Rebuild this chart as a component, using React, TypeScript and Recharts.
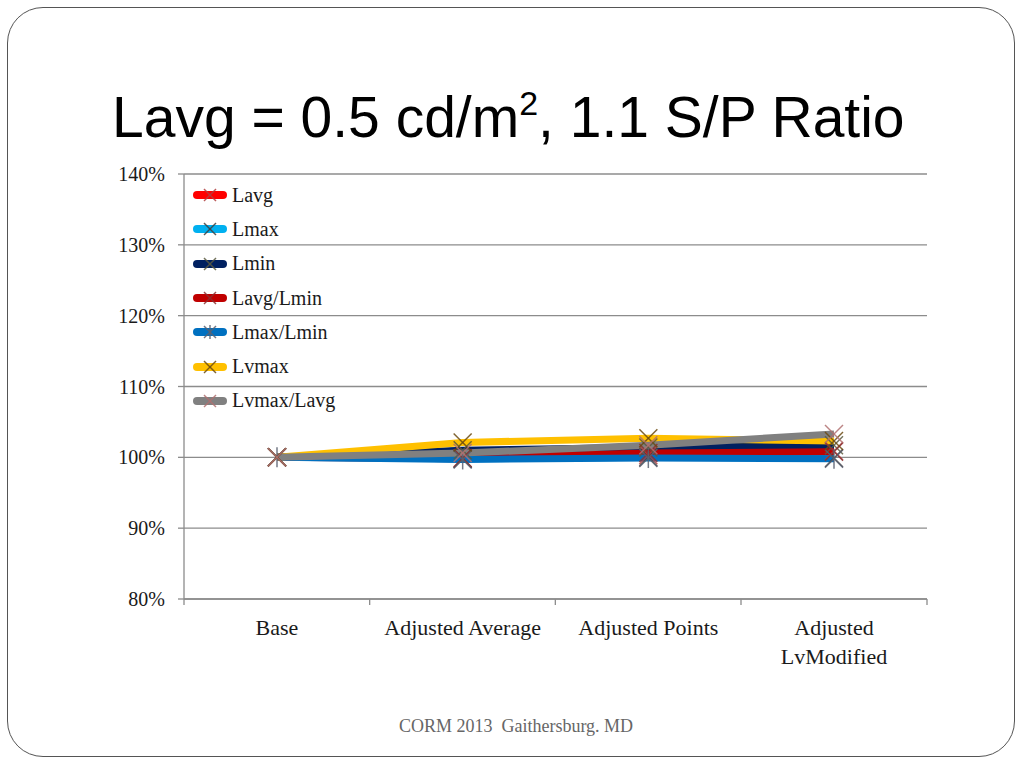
import React from "react";
import { LineChart, Line, XAxis, YAxis, CartesianGrid } from "recharts";

// categories
const categories = ["Base", "Adjusted Average", "Adjusted Points", "Adjusted LvModified"];

// series values, relative to Base (1 = 100%)
const lavg = [1.0, 0.998, 1.003, 1.009];
const lmax = [1.0, 0.998, 1.0, 0.999];
const lmin = [1.0, 1.01, 1.014, 1.017];
const lavgLmin = [1.0, 0.999, 1.006, 1.008];
const lmaxLmin = [1.0, 0.997, 0.999, 0.998];
const lvmax = [1.0, 1.021, 1.027, 1.023];
const lvmaxLavg = [1.0, 1.006, 1.017, 1.033];

const yTicks = [0.8, 0.9, 1.0, 1.1, 1.2, 1.3, 1.4];

const series = [
  { key: "Lavg", values: lavg, color: "#ff0000", marker: "#b04040", shape: "x" },
  { key: "Lmax", values: lmax, color: "#00b0f0", marker: "#404040", shape: "x" },
  { key: "Lmin", values: lmin, color: "#002060", marker: "#5a5a40", shape: "x" },
  { key: "Lavg/Lmin", values: lavgLmin, color: "#c00000", marker: "#8b3030", shape: "x" },
  { key: "Lmax/Lmin", values: lmaxLmin, color: "#0070c0", marker: "#5a6070", shape: "star" },
  { key: "Lvmax", values: lvmax, color: "#ffc000", marker: "#6b4a10", shape: "x" },
  { key: "Lvmax/Lavg", values: lvmaxLavg, color: "#808080", marker: "#b07070", shape: "x" },
];

const data = categories.map((name, i) => {
  const row: Record<string, number | string> = { name };
  series.forEach((s) => (row[s.key] = s.values[i]));
  return row;
});

const SERIF = "'Liberation Serif', 'Times New Roman', serif";
const HALF_BAND = 93;

function Marker({ cx, cy, color, shape, r }: any) {
  if (cx == null || cy == null) return null;
  return (
    <g stroke={color} strokeWidth={1.5} strokeOpacity={0.85}>
      <line x1={cx - r} y1={cy - r} x2={cx + r} y2={cy + r} />
      <line x1={cx - r} y1={cy + r} x2={cx + r} y2={cy - r} />
      {shape === "star" && <line x1={cx} y1={cy - r - 1} x2={cx} y2={cy + r + 1} />}
    </g>
  );
}

// wraps long labels onto two lines, like the slide does
function splitLabel(label: string): string[] {
  if (label.length <= 18) return [label];
  const cut = label.lastIndexOf(" ");
  return [label.slice(0, cut), label.slice(cut + 1)];
}

function CategoryTick({ x, y, payload, index }: any) {
  const last = index === categories.length - 1;
  const lines = splitLabel(String(payload.value));
  return (
    <g>
      <line x1={x - HALF_BAND} y1={y - 8} x2={x - HALF_BAND} y2={y - 2} stroke="#8c8c8c" strokeWidth={1.3} />
      {last && <line x1={x + HALF_BAND} y1={y - 8} x2={x + HALF_BAND} y2={y - 2} stroke="#8c8c8c" strokeWidth={1.3} />}
      <text x={x} y={y + 28} textAnchor="middle" fontFamily={SERIF} fontSize={22} fill="#1a1a1a">
        {lines.map((l, i) => (
          <tspan key={i} x={x} dy={i === 0 ? 0 : 29}>
            {l}
          </tspan>
        ))}
      </text>
    </g>
  );
}

function LegendBox() {
  return (
    <div style={{ position: "absolute", left: 191, top: 178, fontFamily: SERIF, fontSize: 20, color: "#1a1a1a" }}>
      {series.map((s) => (
        <div key={s.key} style={{ height: 34.3, display: "flex", alignItems: "center" }}>
          <svg width={38} height={16} style={{ marginRight: 3 }}>
            <line x1={6} y1={8} x2={32} y2={8} stroke={s.color} strokeWidth={8} strokeLinecap="round" />
            <Marker cx={19} cy={8} color={s.marker} shape={s.shape} r={6} />
          </svg>
          <span>{s.key}</span>
        </div>
      ))}
    </div>
  );
}

export default function App() {
  return (
    <div style={{ position: "absolute", left: 0, top: 0, width: 1024, height: 768, background: "#fff" }}>
      <div
        style={{
          position: "absolute",
          left: 7,
          top: 7,
          width: 1008,
          height: 750,
          border: "1px solid #555",
          borderRadius: 36,
          boxSizing: "border-box",
        }}
      />
      <div
        style={{
          position: "absolute",
          left: 112,
          top: 89,
          fontFamily: "'Liberation Sans', Arial, sans-serif",
          fontSize: 57,
          lineHeight: "57px",
          whiteSpace: "nowrap",
          color: "#000",
        }}
      >
        Lavg = 0.5 cd/m
        <span style={{ fontSize: 34, position: "relative", top: -22 }}>2</span>, 1.1 S/P Ratio
      </div>

      <div style={{ position: "absolute", left: 0, top: 0 }}>
        <LineChart
          width={1024}
          height={768}
          data={data}
          margin={{ top: 174, right: 97, bottom: 89, left: 114 }}
        >
          <CartesianGrid vertical={false} stroke="#8c8c8c" strokeWidth={1.3} />
          <XAxis
            dataKey="name"
            height={80}
            padding={{ left: HALF_BAND, right: HALF_BAND }}
            axisLine={{ stroke: "#8c8c8c", strokeWidth: 1.3 }}
            tickLine={false}
            interval={0}
            tick={<CategoryTick />}
          />
          <YAxis
            width={70}
            domain={[0.8, 1.4]}
            ticks={yTicks}
            interval={0}
            tickFormatter={(v: number) => `${Math.round(v * 100)}%`}
            axisLine={{ stroke: "#8c8c8c", strokeWidth: 1.3 }}
            tickLine={{ stroke: "#8c8c8c", strokeWidth: 1.3 }}
            tickSize={6}
            tickMargin={13}
            tick={{ fontFamily: SERIF, fontSize: 20, fill: "#1a1a1a" }}
          />
          {series.map((s) => (
            <Line
              key={s.key}
              dataKey={s.key}
              stroke={s.color}
              strokeWidth={7}
              strokeLinejoin="round"
              isAnimationActive={false}
              dot={(p: any) => <Marker key={`${s.key}-${p.index}`} cx={p.cx} cy={p.cy} color={s.marker} shape={s.shape} r={9} />}
              activeDot={false}
            />
          ))}
        </LineChart>
      </div>

      <LegendBox />

      <div
        style={{
          position: "absolute",
          left: 0,
          width: 1032,
          top: 716,
          textAlign: "center",
          fontFamily: SERIF,
          fontSize: 18,
          color: "#666",
          whiteSpace: "pre",
        }}
      >
        CORM 2013  Gaithersburg. MD
      </div>
    </div>
  );
}
